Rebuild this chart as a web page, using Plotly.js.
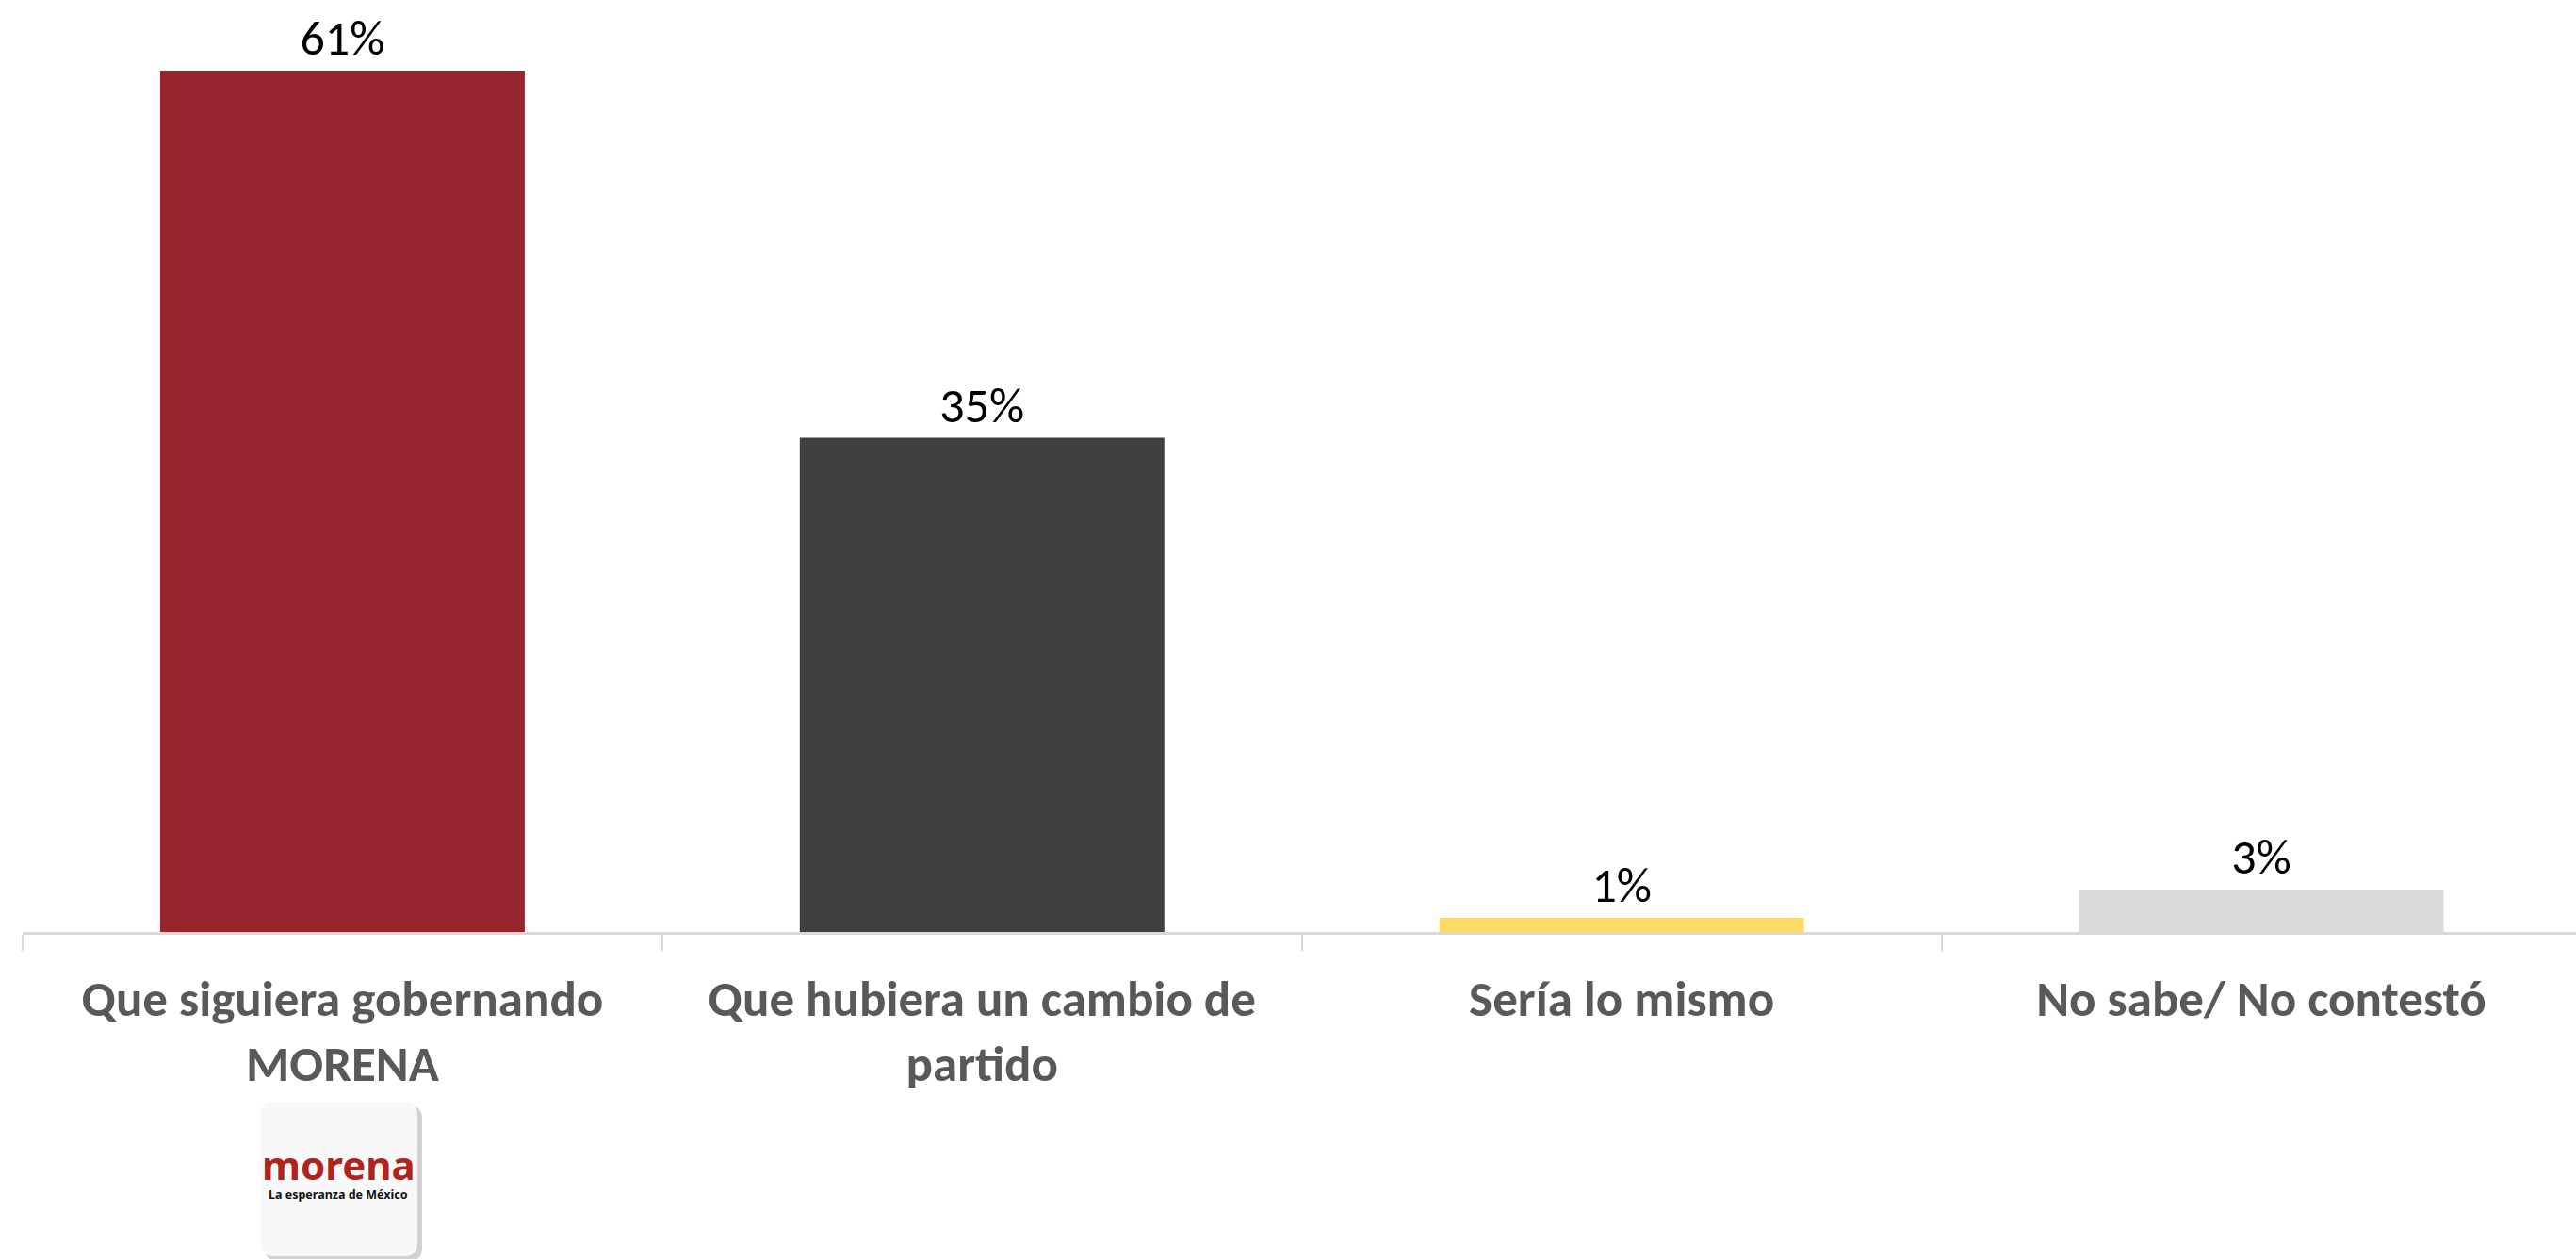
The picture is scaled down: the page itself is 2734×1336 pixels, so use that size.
<!DOCTYPE html>
<html>
<head>
<meta charset="utf-8">
<script src="https://cdn.plot.ly/plotly-3.0.1.min.js"></script>
<style>
  html, body { margin: 0; padding: 0; background: #ffffff; }
  #chart { width: 2734px; height: 1336px; }
</style>
</head>
<body>
<div id="chart"></div>
<script>
// ---- Data ----
const categories = [
  "Que siguiera gobernando<br>MORENA",
  "Que hubiera un cambio de<br>partido",
  "Sería lo mismo",
  "No sabe/ No contestó"
];
const values = [61, 35, 1, 3];
const barColors = ["#96252d", "#404040", "#ffd966", "#d9d9d9"];
const logoTitle = "morena";
const logoSubtitle = "La esperanza de México";

// ---- Layout helpers (pixel -> paper) ----
const W = 2734, H = 1336;
const M = { l: 24, r: 0, t: 0, b: 347 };
const plotW = W - M.l - M.r, plotH = H - M.t - M.b;
const px = x => (x - M.l) / plotW;
const py = y => (H - M.b - y) / plotH;

function roundRect(x0, y0, x1, y1, r) {
  const X0 = px(x0), X1 = px(x1), Y0 = py(y0), Y1 = py(y1);
  const rx = r / plotW, ry = r / plotH;
  return `M ${X0 + rx} ${Y0} L ${X1 - rx} ${Y0} Q ${X1} ${Y0} ${X1} ${Y0 - ry} ` +
         `L ${X1} ${Y1 + ry} Q ${X1} ${Y1} ${X1 - rx} ${Y1} ` +
         `L ${X0 + rx} ${Y1} Q ${X0} ${Y1} ${X0} ${Y1 + ry} ` +
         `L ${X0} ${Y0 - ry} Q ${X0} ${Y0} ${X0 + rx} ${Y0} Z`;
}

const FONT = "Carlito, Calibri, 'Noto Sans', sans-serif";

const trace = {
  type: "bar",
  x: categories,
  y: values,
  marker: { color: barColors },
  texttemplate: "%{y}%",
  textposition: "outside",
  cliponaxis: false,
  textfont: { family: FONT, size: 52, color: "#000000" },
  hoverinfo: "skip"
};

const layout = {
  width: W,
  height: H,
  margin: M,
  paper_bgcolor: "#ffffff",
  plot_bgcolor: "#ffffff",
  showlegend: false,
  bargap: 0.43,
  xaxis: {
    type: "category",
    range: [-0.5, 3.492],
    showline: true,
    linecolor: "#d9d9d9",
    linewidth: 3,
    ticks: "outside",
    tickson: "boundaries",
    ticklen: 17,
    tickwidth: 2,
    tickcolor: "#d9d9d9",
    tickfont: { family: FONT, size: 53, color: "#595959", weight: "bold" },
    ticklabelstandoff: 22,
    showgrid: false,
    zeroline: false,
    fixedrange: true
  },
  yaxis: {
    range: [0, 66],
    showgrid: false,
    zeroline: false,
    showticklabels: false,
    showline: false,
    ticks: "",
    fixedrange: true
  },
  shapes: [
    { type: "path", xref: "paper", yref: "paper", path: roundRect(281, 1173, 448, 1338, 14),
      fillcolor: "rgba(0,0,0,0.18)", line: { width: 0 }, layer: "above" },
    { type: "path", xref: "paper", yref: "paper", path: roundRect(277, 1169, 443, 1333, 14),
      fillcolor: "#f8f8f8", line: { width: 0 }, layer: "above" }
  ],
  annotations: [
    { xref: "paper", yref: "paper", x: px(359), y: py(1235), text: logoTitle, showarrow: false,
      xanchor: "center", yanchor: "middle",
      font: { family: "'Noto Sans', sans-serif", size: 42, color: "#b0241d", weight: "bold" } },
    { xref: "paper", yref: "paper", x: px(359), y: py(1267), text: logoSubtitle, showarrow: false,
      xanchor: "center", yanchor: "middle",
      font: { family: "'Noto Sans', sans-serif", size: 12.5, color: "#111111", weight: "bold" } }
  ]
};

Plotly.newPlot("chart", [trace], layout, { staticPlot: true, displayModeBar: false });
</script>
</body>
</html>
